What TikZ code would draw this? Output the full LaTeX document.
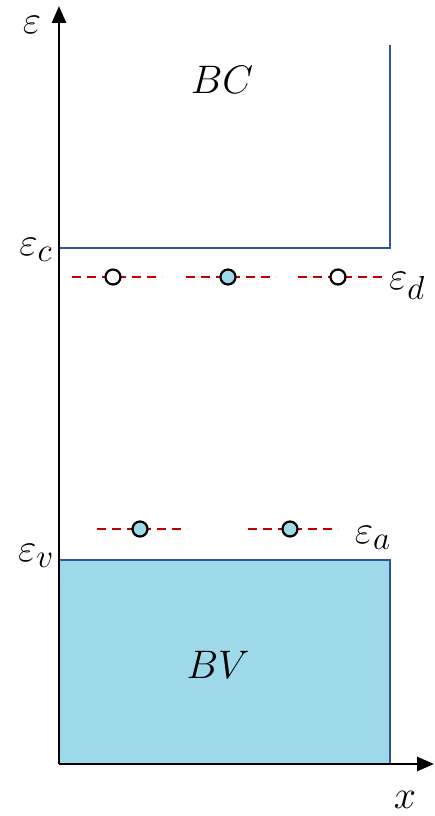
\documentclass[tikz,border=0pt]{standalone}
\usepackage{graphicx}
\usetikzlibrary{arrows.meta}
\definecolor{bandblue}{HTML}{2F5597}
\definecolor{bvfill}{HTML}{9DD9E8}
\definecolor{lvlred}{HTML}{C00000}
\newcommand{\biglbl}[1]{\scalebox{1.6}{\Huge$#1$}}
\tikzset{
  axis/.style={line width=2.6pt,-{Triangle[length=17pt,width=14pt]}},
  band/.style={draw=bandblue,line width=2.2pt},
  lvl/.style={draw=lvlred,line width=2.2pt,dash pattern=on 9pt off 6pt},
  emptyst/.style={circle,draw=black,line width=2.2pt,fill=white,minimum size=15pt,inner sep=0pt},
  fullst/.style={circle,draw=black,line width=2.2pt,fill=bvfill,minimum size=15pt,inner sep=0pt},
  lbl/.style={inner sep=0pt}
}
\begin{document}
\begin{tikzpicture}[x=1pt,y=-1pt]
\useasboundingbox (0,0) rectangle (434,816);
% valence band
\path[fill=bvfill] (59,560) rectangle (390,764);
\draw[band] (59,560) -- (390,560) -- (390,764);
% conduction band
\draw[band] (59,248) -- (390,248) -- (390,45);
% axes
\coordinate (o) at (59,764);
\coordinate (ytip) at (59,6);
\coordinate (xtip) at (434,764);
\draw[axis] (o) -- (ytip);
\draw[axis] (o) -- (xtip);
% donor levels
\coordinate (d1a) at (72,277); \coordinate (d1b) at (162,277);
\coordinate (d2a) at (186,277); \coordinate (d2b) at (276,277);
\coordinate (d3a) at (298,277); \coordinate (d3b) at (386,277);
\draw[lvl] (d1a) -- (d1b);
\draw[lvl] (d2a) -- (d2b);
\draw[lvl] (d3a) -- (d3b);
\node[emptyst] (dn1) at (113,277) {};
\node[fullst] (dn2) at (228,277) {};
\node[emptyst] (dn3) at (338,277) {};
% acceptor levels
\coordinate (a1a) at (97,529); \coordinate (a1b) at (187,529);
\coordinate (a2a) at (248,529); \coordinate (a2b) at (338,529);
\draw[lvl] (a1a) -- (a1b);
\draw[lvl] (a2a) -- (a2b);
\node[fullst] (ac1) at (140,529) {};
\node[fullst] (ac2) at (290,529) {};
% labels
\node[lbl] (eps) at (32,25) {\biglbl{\varepsilon}};
\node[lbl] (epsc) at (36,250) {\biglbl{\varepsilon_c}};
\node[lbl] (epsv) at (36,556) {\biglbl{\varepsilon_v}};
\node[lbl] (epsd) at (407,286) {\biglbl{\varepsilon_d}};
\node[lbl] (epsa) at (373,538) {\biglbl{\varepsilon_a}};
\node[lbl] (bc) at (222,80) {\biglbl{BC}};
\node[lbl] (bv) at (218,665) {\biglbl{BV}};
\node[lbl] (xl) at (405,800) {\biglbl{x}};
\end{tikzpicture}
\end{document}
